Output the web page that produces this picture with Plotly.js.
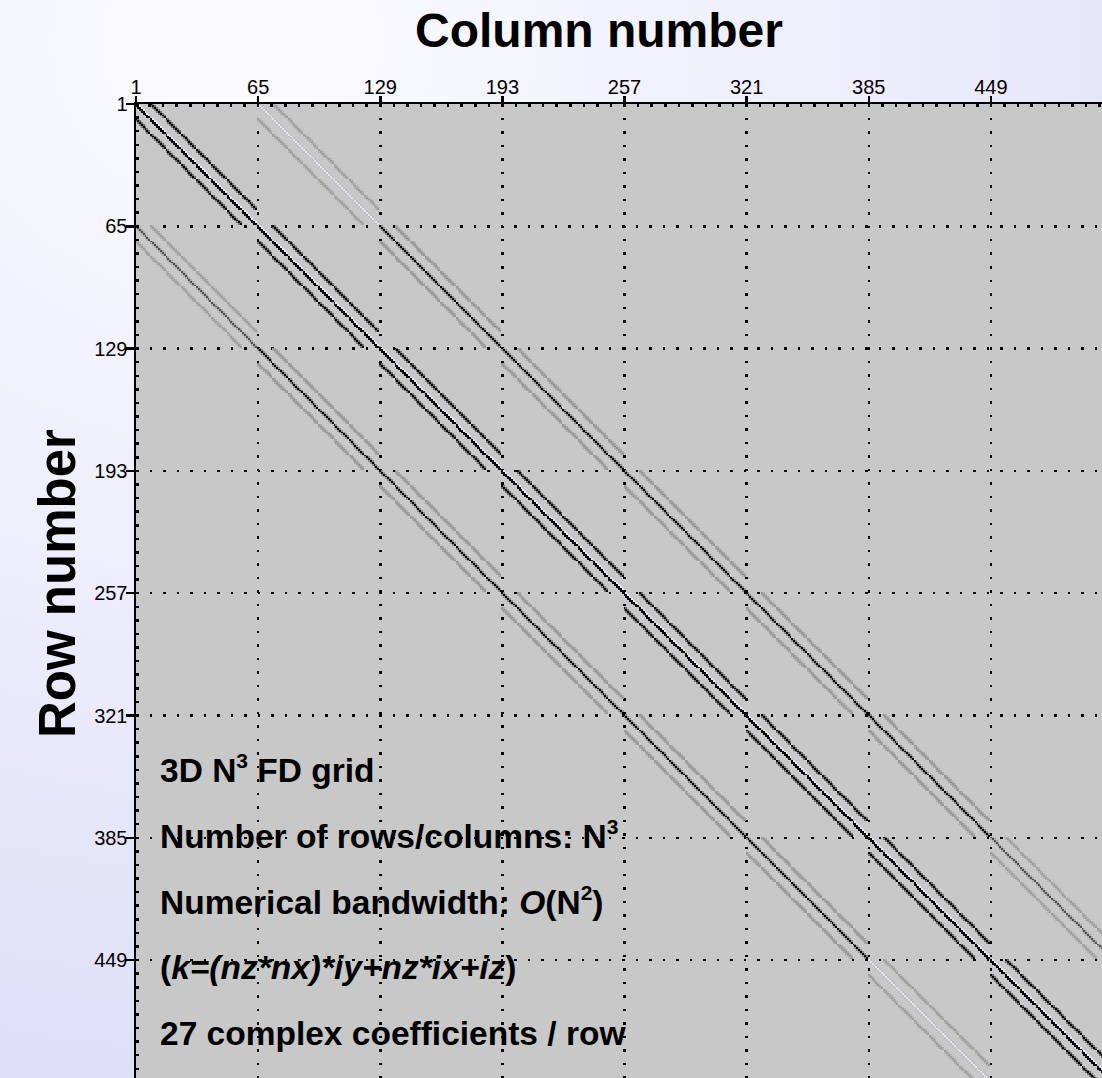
<!DOCTYPE html>
<html>
<head>
<meta charset="utf-8">
<script src="https://cdn.plot.ly/plotly-3.0.1.min.js"></script>
<style>
  html, body {
    margin: 0; padding: 0; overflow: hidden;
    width: 1102px; height: 1078px;
    background: radial-gradient(ellipse 120% 110% at 22% 4%, #fbfbff 0%, #eeeefc 45%, #dadaf7 100%);
  }
  #chart { width: 1102px; height: 1078px; }
</style>
</head>
<body>
<div id="chart"></div>
<script>
// Grid dimensions of the 3D finite-difference mesh (N = 8 per axis)
const nz = 8;
const nx = 8;
const ny = 8;

// Axis ticks (row / column numbers, 1-based)
const tickValues = [1, 65, 129, 193, 257, 321, 385, 449];
const tickLabels = ['1', '65', '129', '193', '257', '321', '385', '449'];

// 27-point stencil coefficients, indexed [dy+1][dx+1][dz+1]
// (displayed amplitude: positive = dark, negative = light)
const stencilInterior = [
  [[0.15, 0.25, 0.15], [0.30, 1.00, 0.30], [0.15, 0.25, 0.15]],
  [[0.45, 1.00, 0.45], [0.95, 1.00, -0.90], [0.45, 1.00, 0.45]],
  [[0.15, 0.25, 0.15], [0.30, 1.00, 0.30], [0.15, 0.25, 0.15]]
];
// Off-plane coefficients for rows lying on a boundary plane (iy = 0 or ny-1)
const stencilBoundaryRow = [[0.10, 0.22, 0.10], [0.05, -0.80, 0.05], [0.10, 0.22, 0.10]];
// Off-plane coefficients for interior rows coupling into a boundary plane
const stencilBoundaryCol = [[0.10, 0.22, 0.10], [0.15, 0.60, 0.15], [0.10, 0.22, 0.10]];

// Text block drawn inside the plot
const supStyle = 'font-size:21px';
const noteLines = [
  '<b>3D N<sup><span style="' + supStyle + '">3</span></sup> FD grid</b>',
  '<b>Number of rows/columns: N<sup><span style="' + supStyle + '">3</span></sup></b>',
  '<b>Numerical bandwidth: <i>O</i>(N<sup><span style="' + supStyle + '">2</span></sup>)</b>',
  '<b>(<i>k=(nz*nx)*iy+nz*ix+iz</i>)</b>',
  '<b>27 complex coefficients / row</b>'
];
const notePixelY = [769, 835, 901, 967, 1033];

// ---- assemble the sparse matrix, k = (nz*nx)*iy + nz*ix + iz ----
const nRows = nz * nx * ny;
const z = [];
for (let r = 0; r < nRows; r++) z.push(new Array(nRows).fill(null));
const index = (iy, ix, iz) => nz * nx * iy + nz * ix + iz;

for (let iy = 0; iy < ny; iy++) {
  for (let ix = 0; ix < nx; ix++) {
    for (let iz = 0; iz < nz; iz++) {
      const k = index(iy, ix, iz);
      for (let dy = -1; dy <= 1; dy++) {
        const jy = iy + dy;
        if (jy < 0 || jy >= ny) continue;
        for (let dx = -1; dx <= 1; dx++) {
          const jx = ix + dx;
          if (jx < 0 || jx >= nx) continue;
          for (let dz = -1; dz <= 1; dz++) {
            const jz = iz + dz;
            if (jz < 0 || jz >= nz) continue;
            let table = stencilInterior[dy + 1];
            if (dy !== 0) {
              if (iy === 0 || iy === ny - 1) table = stencilBoundaryRow;
              else if (jy === 0 || jy === ny - 1) table = stencilBoundaryCol;
            }
            z[k][index(jy, jx, jz)] = table[dx + 1][dz + 1];
          }
        }
      }
    }
  }
}
const numbers = Array.from({length: nRows}, (_, i) => i + 1);

const fontFamily = '"Liberation Sans", Arial, Helvetica, sans-serif';

const trace = {
  type: 'heatmap',
  z: z,
  x: numbers,
  y: numbers,
  zmin: -1,
  zmax: 1,
  colorscale: [[0, '#eeeeff'], [0.5, '#c8c8c8'], [1, '#000000']],
  showscale: false,
  zsmooth: false,
  hoverongaps: false
};

const plotTop = 104, plotLeft = 136, H = 1078, W = 1102;
const toPaperY = py => (H - py) / (H - plotTop);
const toPaperX = px => (px - plotLeft) / (W - plotLeft);

const axisCommon = {
  tickvals: tickValues,
  ticktext: tickLabels,
  ticks: 'outside',
  tickwidth: 2.5,
  tickcolor: '#000',
  ticklabelstandoff: -6,
  showline: true,
  linewidth: 2.5,
  linecolor: '#000',
  showgrid: true,
  gridcolor: '#000',
  gridwidth: 2.5,
  griddash: '2.5px,11px',
  zeroline: false,
  tickfont: {family: fontFamily, size: 20, color: '#000'},
  minor: {ticks: 'inside', ticklen: 3, tickwidth: 2.5, tickcolor: '#000', dtick: 64 / 9, tick0: 1, showgrid: false},
  fixedrange: true
};

const annotations = [
  {text: '<b>Column number</b>', xref: 'paper', yref: 'paper', x: toPaperX(599), y: toPaperY(30),
   xanchor: 'center', yanchor: 'middle', showarrow: false,
   font: {family: fontFamily, size: 48, color: '#000'}},
  {text: '<b>Row number</b>', xref: 'paper', yref: 'paper', x: toPaperX(57), y: toPaperY(584),
   xanchor: 'center', yanchor: 'middle', textangle: -90, showarrow: false,
   font: {family: fontFamily, size: 51, color: '#000'}}
];
noteLines.forEach((t, i) => annotations.push({
  text: t, xref: 'paper', yref: 'paper', x: toPaperX(158), y: toPaperY(notePixelY[i]),
  xanchor: 'left', yanchor: 'middle', showarrow: false,
  font: {family: fontFamily, size: 33.5, color: '#000'}
}));

const layout = {
  width: W,
  height: H,
  margin: {l: plotLeft, r: 0, t: plotTop, b: 0, pad: 0},
  paper_bgcolor: 'rgba(0,0,0,0)',
  plot_bgcolor: '#c8c8c8',
  showlegend: false,
  xaxis: Object.assign({}, axisCommon, {side: 'top', range: [1, 507.2], ticklen: 6}),
  yaxis: Object.assign({}, axisCommon, {range: [510.7, 1], ticklen: 8}),
  annotations: annotations
};

Plotly.newPlot('chart', [trace], layout, {displayModeBar: false, staticPlot: true});
</script>
</body>
</html>
